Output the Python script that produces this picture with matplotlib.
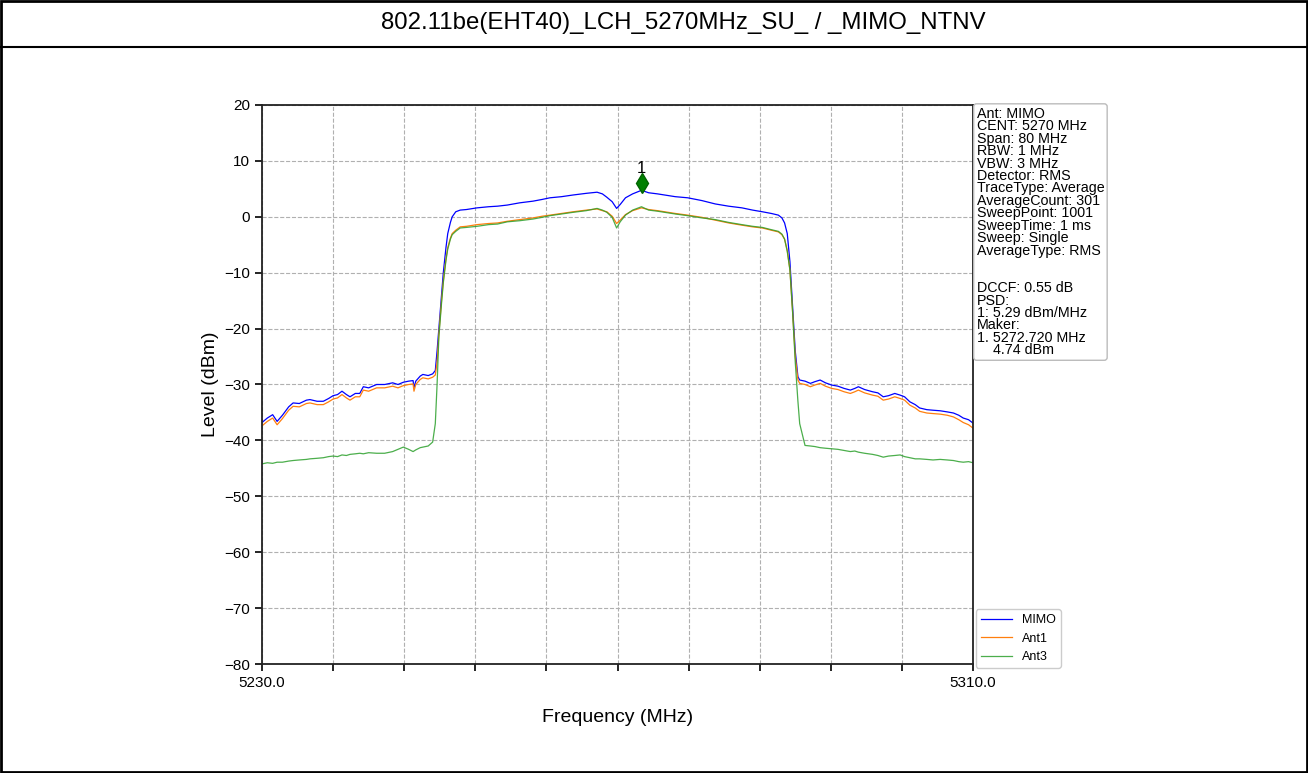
import matplotlib
matplotlib.use("Agg")
import matplotlib.pyplot as plt
from matplotlib.lines import Line2D
from matplotlib.patches import Rectangle

plt.rcParams['font.family'] = ['Liberation Sans', 'DejaVu Sans']

# frequency points (MHz) shared by the three traces
freq_mhz = [
    5230.0, 5230.6, 5231.2, 5231.7, 5232.3, 5233.0, 5233.5, 5234.2, 5235.0, 5235.4,
    5236.2, 5236.9, 5237.5, 5238.0, 5238.5, 5239.0, 5239.5, 5239.9, 5240.5, 5241.0,
    5241.4, 5242.0, 5242.9, 5243.8, 5244.7, 5245.3, 5245.9, 5246.5, 5247.0, 5247.1,
    5247.3, 5247.8, 5248.1, 5248.7, 5249.2, 5249.5, 5249.7, 5249.9, 5250.2, 5250.4,
    5250.7, 5250.9, 5251.2, 5251.4, 5251.8, 5252.3, 5253.0, 5254.2, 5255.5, 5256.5,
    5257.6, 5259.0, 5260.5, 5261.5, 5262.4, 5263.7, 5265.0, 5266.5, 5267.7, 5268.3,
    5268.8, 5269.4, 5269.9, 5270.3, 5270.9, 5271.7, 5272.7, 5273.5, 5274.5, 5275.3,
    5276.5, 5277.9, 5279.5, 5281.0, 5282.5, 5284.0, 5285.2, 5286.3, 5287.3, 5288.1,
    5288.5, 5288.8, 5289.1, 5289.4, 5289.7, 5290.0, 5290.3, 5290.5, 5291.1, 5291.7,
    5292.2, 5292.8, 5293.4, 5294.1, 5294.8, 5295.5, 5296.2, 5296.7, 5297.1, 5297.8,
    5298.7, 5299.3, 5299.9, 5300.5, 5301.2, 5301.8, 5302.3, 5302.9, 5303.5, 5304.0,
    5304.8, 5305.5, 5306.3, 5307.1, 5307.8, 5308.4, 5308.9, 5309.5, 5310.0,
]

mimo_dbm = [
    -36.8, -36.0, -35.4, -36.6, -35.5, -34.0, -33.3, -33.4, -32.8, -32.7,
    -33.0, -33.0, -32.5, -32.0, -31.8, -31.2, -31.8, -32.2, -31.6, -31.6,
    -30.4, -30.6, -30.0, -30.0, -29.7, -30.0, -29.6, -29.4, -29.3, -30.6,
    -29.4, -28.5, -28.2, -28.4, -28.1, -27.5, -24.0, -20.0, -14.0, -10.0,
    -5.5, -3.0, -1.0, 0.0, 0.9, 1.2, 1.3, 1.6, 1.8, 1.9,
    2.1, 2.5, 2.8, 3.1, 3.4, 3.6, 3.9, 4.2, 4.4, 4.1,
    3.5, 2.7, 1.5, 2.2, 3.4, 4.1, 4.74, 4.3, 4.1, 3.9,
    3.6, 3.4, 2.9, 2.3, 1.9, 1.6, 1.2, 0.9, 0.6, 0.3,
    -0.2, -1.1, -3.0, -8.0, -16.0, -24.0, -28.6, -29.2, -29.4, -29.8,
    -29.5, -29.2, -29.7, -30.1, -30.3, -30.7, -31.0, -30.7, -30.4, -30.9,
    -31.3, -31.5, -32.2, -32.0, -31.6, -31.9, -32.2, -33.1, -33.6, -34.2,
    -34.5, -34.6, -34.7, -34.9, -35.1, -35.5, -36.0, -36.3, -36.9,
]

ant1_dbm = [
    -37.4, -36.6, -36.0, -37.2, -36.1, -34.6, -33.9, -34.0, -33.4, -33.3,
    -33.6, -33.6, -33.1, -32.6, -32.4, -31.8, -32.4, -32.8, -32.2, -32.2,
    -31.0, -31.2, -30.6, -30.6, -30.3, -30.6, -30.2, -30.0, -29.9, -31.2,
    -30.0, -29.1, -28.8, -29.0, -28.7, -28.3, -26.0, -21.0, -15.0, -11.5,
    -7.5, -5.5, -3.8, -3.0, -2.4, -1.8, -1.7, -1.4, -1.2, -1.1,
    -0.8, -0.5, -0.2, 0.1, 0.3, 0.6, 0.9, 1.2, 1.4, 1.1,
    0.9, 0.1, -1.2, -0.6, 0.4, 1.1, 1.6, 1.3, 1.1, 0.9,
    0.6, 0.3, -0.1, -0.6, -1.1, -1.5, -1.8, -2.0, -2.4, -2.7,
    -3.2, -4.0, -6.0, -9.5, -17.0, -25.0, -29.2, -29.8, -30.0, -30.4,
    -30.1, -29.8, -30.3, -30.7, -30.9, -31.3, -31.6, -31.3, -31.0, -31.5,
    -31.9, -32.1, -32.8, -32.6, -32.2, -32.5, -32.8, -33.7, -34.2, -34.8,
    -35.1, -35.2, -35.3, -35.5, -35.8, -36.3, -36.8, -37.2, -37.8,
]

ant3_dbm = [
    -44.2, -44.0, -44.1, -43.9, -43.9, -43.7, -43.6, -43.5, -43.4, -43.3,
    -43.2, -43.1, -42.9, -42.8, -42.9, -42.6, -42.7, -42.5, -42.4, -42.3,
    -42.4, -42.2, -42.3, -42.3, -42.0, -41.6, -41.2, -41.6, -42.0, -41.9,
    -41.7, -41.3, -41.2, -41.0, -40.3, -37.0, -30.0, -21.5, -15.5, -11.8,
    -7.8, -5.8, -4.0, -3.2, -2.6, -2.0, -1.9, -1.7, -1.4, -1.3,
    -0.9, -0.7, -0.4, -0.1, 0.2, 0.5, 0.8, 1.1, 1.5, 1.2,
    0.8, -0.1, -2.0, -0.9, 0.3, 1.2, 1.8, 1.2, 1.0, 0.8,
    0.5, 0.2, -0.2, -0.5, -1.0, -1.4, -1.7, -1.9, -2.3, -2.6,
    -3.1, -4.0, -6.2, -9.5, -17.0, -26.0, -33.0, -37.0, -40.9, -41.0,
    -41.1, -41.3, -41.4, -41.5, -41.6, -41.8, -42.0, -41.9, -42.1, -42.3,
    -42.5, -42.7, -43.0, -42.8, -42.7, -42.6, -42.9, -43.1, -43.3, -43.3,
    -43.4, -43.5, -43.4, -43.5, -43.6, -43.8, -43.9, -43.8, -44.0,
]

marker_freq = 5272.72
marker_level = 4.74

info_lines = [
    "Ant: MIMO", "CENT: 5270 MHz", "Span: 80 MHz", "RBW: 1 MHz", "VBW: 3 MHz",
    "Detector: RMS", "TraceType: Average", "AverageCount: 301", "SweepPoint: 1001",
    "SweepTime: 1 ms", "Sweep: Single", "AverageType: RMS", "", "",
    "DCCF: 0.55 dB", "PSD:", "1: 5.29 dBm/MHz", "Maker:", "1. 5272.720 MHz", "    4.74 dBm",
]

fig = plt.figure(figsize=(13.08, 7.73), dpi=100)
ax = fig.add_axes([262 / 1308, 1 - 664 / 773, 711 / 1308, 559 / 773])

ax.plot(freq_mhz, mimo_dbm, color='blue', lw=0.9, label='MIMO')
ax.plot(freq_mhz, ant1_dbm, color='tab:orange', lw=0.9, label='Ant1')
ax.plot(freq_mhz, ant3_dbm, color='tab:green', lw=0.9, alpha=0.85, label='Ant3')

ax.plot([marker_freq], [marker_level + 1.3], marker='d', color='green',
        markersize=10, markeredgecolor='darkgreen')
ax.text(marker_freq, marker_level + 2.6, "1", ha='center', va='bottom', fontsize=12)

ax.set_xlim(5230, 5310)
ax.set_ylim(-80, 20)
xt = [5230 + 8 * i for i in range(11)]
ax.set_xticks(xt)
ax.set_xticklabels(["5230.0"] + [""] * 9 + ["5310.0"])
ax.set_yticks(range(-80, 21, 10))
ax.tick_params(labelsize=11, length=5, width=1.2)
ax.grid(True, linestyle='--', color='#b0b0b0', lw=0.8)
for s in ax.spines.values():
    s.set_linewidth(1.3)
    s.set_color('#222222')

ax.set_xlabel("Frequency (MHz)", fontsize=14, labelpad=14)
ax.set_ylabel("Level (dBm)", fontsize=14, labelpad=4)

ax.text(1.005, 0.997, "\n".join(info_lines), transform=ax.transAxes, ha='left', va='top',
        fontsize=10.3, linespacing=0.86,
        bbox=dict(boxstyle='round,pad=0.2', fc='white', ec='#bbbbbb', lw=1))

ax.legend(loc='lower left', bbox_to_anchor=(1.004, -0.007), borderaxespad=0,
          fontsize=9, framealpha=1, edgecolor='#cccccc', handlelength=2.5)

# title band and border
fig.text(683 / 1308, 1 - 23 / 773, "802.11be(EHT40)_LCH_5270MHz_SU_ / _MIMO_NTNV",
         ha='center', va='center', fontsize=17.3)
fig.add_artist(Line2D([0, 1], [1 - 47 / 773, 1 - 47 / 773], transform=fig.transFigure,
                      color='black', lw=1.5))
fig.add_artist(Rectangle((0.001, 0.001), 0.998, 0.998, transform=fig.transFigure,
                         fill=False, ec='black', lw=2))

fig.savefig("out.png", dpi=100)
